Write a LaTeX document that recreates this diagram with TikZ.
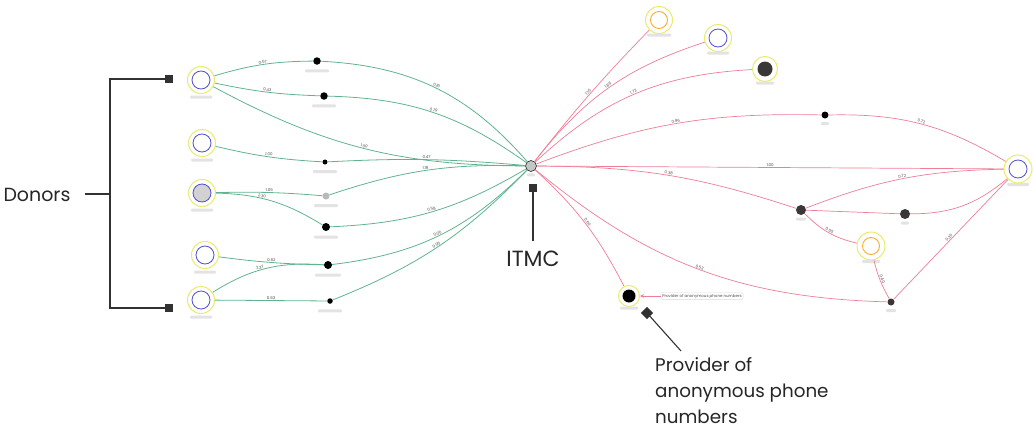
\documentclass[tikz,border=0pt]{standalone}
\usepackage{fontspec}
\setmainfont{Poppins}
\usetikzlibrary{arrows.meta}
\definecolor{gedge}{RGB}{95,180,142}
\definecolor{pedge}{RGB}{238,125,150}
\definecolor{ringy}{RGB}{234,234,110}
\definecolor{bluec}{RGB}{80,80,205}
\definecolor{orangec}{RGB}{245,172,45}
\definecolor{markc}{RGB}{50,50,50}
\definecolor{darkn}{RGB}{60,55,55}
\newcommand\lbar[3]{\path (#1.south) ++(0,#3) node[lbl,minimum width=#2] (#1l) {};}
\begin{document}
\begin{tikzpicture}[x=1pt,y=-1pt,
  ring/.style={circle,draw=ringy,line width=1pt,minimum size=27pt,inner sep=0pt},
  inb/.style={circle,draw=bluec,line width=0.8pt,minimum size=18pt,inner sep=0pt},
  ino/.style={circle,draw=orangec,line width=0.9pt,minimum size=17pt,inner sep=0pt},
  dot/.style={circle,fill=black,minimum size=#1,inner sep=0pt},
  dot/.default=7.5pt,
  lbl/.style={fill=gray!22,minimum height=3pt,inner sep=0pt,rounded corners=1pt},
  ge/.style={draw=gedge,line width=0.8pt},
  pe/.style={draw=pedge,line width=0.7pt},
  elab/.style={font=\fontsize{4}{4}\selectfont,text=gray!60!black,sloped,above,inner sep=0.6pt},
  sq/.style={rectangle,fill=markc,minimum size=8.5pt,inner sep=0pt},
  mk/.style={draw=markc,line width=1.1pt},
  bigt/.style={font=\fontsize{19}{25.5}\selectfont,text=black!85},
  provt/.style={font=\fontsize{18.3}{25.5}\selectfont,text=black!85},
  itmct/.style={font=\fontsize{22}{26}\selectfont,text=black!85}
]
\useasboundingbox (0,0) rectangle (1034,439);

% ---- left donors
\node[ring] (D1) at (201,80) {}; \node[inb] (D1c) at (201,80) {};
\node[ring] (D2) at (202,143) {}; \node[inb] (D2c) at (202,143) {};
\node[ring] (D3) at (202,193) {}; \node[inb,fill=gray!35] (D3c) at (202,193) {};
\node[ring] (D4) at (205,255) {}; \node[inb] (D4c) at (205,255) {};
\node[ring] (D5) at (201,300) {}; \node[inb] (D5c) at (201,300) {};
\lbar{D1}{22pt}{3}\lbar{D2}{22pt}{3}\lbar{D3}{22pt}{3}\lbar{D4}{22pt}{3}\lbar{D5}{22pt}{3}

% ---- intermediates left
\node[dot] (N1) at (317,61) {};
\node[dot] (N2) at (324,96) {};
\node[dot=5pt] (N3) at (325,162) {};
\node[circle,fill=gray!55,minimum size=7pt,inner sep=0pt] (N4) at (326,196) {};
\node[dot=8pt] (N5) at (326,227) {};
\node[dot=8pt] (N6) at (328,265) {};
\node[dot=5.5pt] (N7) at (330,301) {};
\lbar{N1}{24pt}{6}\lbar{N2}{24pt}{6}\lbar{N3}{24pt}{7}\lbar{N4}{24pt}{6}\lbar{N5}{24pt}{6}\lbar{N6}{26pt}{6}\lbar{N7}{24pt}{7}

% ---- ITMC
\node[circle,fill=gray!45,draw=gray!30!black,line width=0.6pt,minimum size=11pt,inner sep=0pt] (IT) at (531,166) {};
\lbar{IT}{8pt}{3}

% ---- right side
\node[ring] (R1) at (659,20) {}; \node[ino] (R1c) at (659,20) {};
\node[ring] (R2) at (718,38) {}; \node[inb] (R2c) at (718,38) {};
\node[ring,minimum size=25pt] (R3) at (765,69) {}; \node[circle,fill=darkn,minimum size=15pt,inner sep=0pt] (R3c) at (765,69) {};
\node[dot=7pt] (M1) at (825,115) {};
\node[ring,minimum size=28pt] (Far) at (1018,169) {}; \node[inb] (Farc) at (1018,169) {};
\node[dot=10pt,fill=darkn] (M2) at (801,210) {};
\node[dot=10pt,fill=darkn] (M3) at (905,214) {};
\node[ring,minimum size=28pt] (R4) at (871,246) {}; \node[ino] (R4c) at (871,246) {};
\node[dot=7pt,fill=darkn] (M4) at (891,302) {};
\node[ring,minimum size=21pt] (P) at (629,296) {}; \node[dot=13pt] (Pc) at (629,296) {};
\lbar{R1}{24pt}{1}\lbar{R2}{22pt}{1}\lbar{R3}{18pt}{1}\lbar{M1}{8pt}{5}\lbar{Far}{22pt}{1}
\lbar{M2}{10pt}{4}\lbar{M3}{8pt}{4}\lbar{R4}{18pt}{1}\lbar{M4}{10pt}{5}\lbar{P}{18pt}{1}

% ---- green edges
\draw[ge] (D1) to[bend left=8] node[elab]{0.57} (N1);
\draw[ge] (N1) to[bend left=23] node[elab]{0.81} (IT);
\draw[ge] (D1) to[bend right=5] node[elab]{0.43} (N2);
\draw[ge] (N2) to[bend left=17] node[elab]{0.79} (IT);
\draw[ge] (D1) to[bend right=14] node[elab]{1.00} (IT);
\draw[ge] (D2) to[bend right=5] node[elab]{1.00} (N3);
\draw[ge] (N3) to[bend left=4] node[elab]{0.47} (IT);
\draw[ge] (D3) to[bend left=3] node[elab]{1.05} (N4);
\draw[ge] (D3) to[bend left=15] node[elab,pos=0.4]{2.30} (N5);
\draw[ge] (N4) to[bend left=10] node[elab]{1.18} (IT);
\draw[ge] (N5) to[bend right=14] node[elab]{0.58} (IT);
\draw[ge] (D4) to[bend right=3] node[elab]{0.62} (N6);
\draw[ge] (D5) to[bend left=18] node[elab,pos=0.45]{2.37} (N6);
\draw[ge] (D5) to node[elab]{0.63} (N7);
\draw[ge] (N6) to[bend right=19] node[elab]{0.05} (IT);
\draw[ge] (N7) to[bend right=12] node[elab]{0.05} (IT);

% ---- pink edges
\draw[pe] (IT) to[bend left=3] node[elab]{1.35} (R1);
\draw[pe] (IT) to[bend left=17] node[elab]{1.86} (R2);
\draw[pe] (IT) to[bend left=20] node[elab]{1.73} (R3);
\draw[pe] (IT) to[bend left=11] node[elab]{0.96} (M1);
\draw[pe] (IT) to node[elab]{1.00} (Far);
\draw[pe] (IT) to[bend left=9] node[elab]{0.38} (M2);
\draw[pe] (IT) to[bend left=10] node[elab,pos=0.5]{0.60} (P);
\draw[pe] (IT) to[bend right=19] node[elab]{0.53} (M4);
\draw[pe] (M1) to[bend left=16] node[elab]{0.72} (Far);
\draw[pe] (M2) to[bend left=10] node[elab]{0.72} (Far);
\draw[pe] (M2) to (M3);
\draw[pe] (M3) to[bend right=20] (Far);
\draw[pe] (M2) to[bend right=16] node[elab]{0.55} (R4);
\draw[pe] (R4) to[bend right=8] node[elab]{0.40} (M4);
\draw[pe] (M4) to node[elab]{0.35} (Far);

% ---- provider callout
\node[draw=gray!30,fill=white,rounded corners=1.5pt,inner sep=1.5pt,font=\fontsize{4}{4}\selectfont,text=gray!60!black] (PB) at (702,296) {Provider of anonymous phone numbers};
\draw[pe,-{Stealth[length=4pt,width=3.5pt]}] (PB) -- (P);

% ---- Donors bracket
\node[bigt,anchor=base west] (DonT) at (0,201) {Donors};
\coordinate (DL) at (85,194);
\coordinate (BJ) at (110,194);
\coordinate (B1) at (110,79);
\coordinate (B2) at (110,308);
\node[sq] (S1) at (169,79) {};
\node[sq] (S2) at (169,308) {};
\draw[mk] (DL) -- (BJ);
\draw[mk] (S1.center) -- (B1) -- (B2) -- (S2.center);

% ---- ITMC marker
\node[sq] (S3) at (533,188) {};
\node[itmct,anchor=base] (ITT) at (533,266) {ITMC};
\coordinate (S3e) at (533,241);
\draw[mk] (S3.center) -- (S3e);

% ---- Provider marker
\node[sq,rotate=45] (S4) at (647,313) {};
\coordinate (PL) at (681,351);
\draw[mk] (S4.center) -- (PL);
\node[provt,anchor=north west,align=left,inner sep=0pt] (PT) at (655,357) {Provider of\\[0.5pt]anonymous phone\\[0.5pt]numbers};
\end{tikzpicture}
\end{document}
